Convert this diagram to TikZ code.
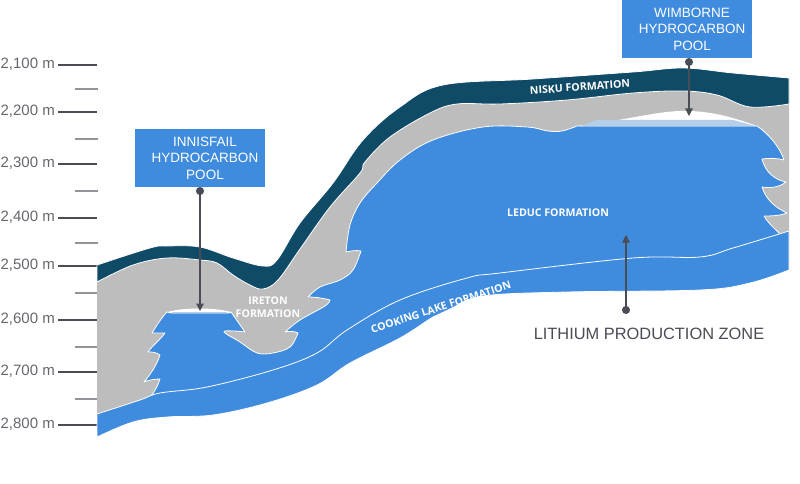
\documentclass[tikz,border=0pt]{standalone}
\usepackage{fontspec}
\setmainfont{Liberation Sans}
\newfontfamily\formationfont{Open Sans}
\usetikzlibrary{arrows.meta}
\definecolor{reefblue}{HTML}{3F8BDE}
\definecolor{niskublue}{HTML}{0F4A66}
\definecolor{shalegrey}{HTML}{BDBDBD}
\definecolor{poolblue}{HTML}{B5CFEA}
\definecolor{inkgrey}{HTML}{4A4C55}
\tikzset{
    layer/.style={draw=white, line width=.8pt, line join=round},
    poolbox/.style={fill=reefblue, draw=none, minimum width=130pt, minimum height=58pt, inner sep=0pt},
    pooltext/.style={text=white, font=\fontsize{13.5}{16.4}\selectfont, align=center, inner sep=0pt},
    formation/.style={text=white, font=\formationfont\bfseries\fontsize{10.6}{13}\selectfont, align=center, inner sep=0pt},
    depth/.style={text=inkgrey!85, font=\fontsize{15}{16}\selectfont, anchor=east, inner sep=0pt},
    tick/.style={draw=inkgrey, line width=1.3pt},
    minortick/.style={draw=inkgrey!60, line width=1.3pt},
    pointer/.style={draw=inkgrey, line width=1.2pt, {Circle[length=8pt]}-{Triangle[length=7.5pt,width=7.5pt]}}
}
\begin{document}
\begin{tikzpicture}[x=1pt, y=-1pt]
    \useasboundingbox (0,0) rectangle (800,484);
    % Depth scale
    \foreach \i/\y in {1/65,2/112,3/164,4/218,5/266,6/320,7/372,8/425} {
        \node[depth] (Depth-\i) at (55,\y-0.5) {2,\i00 m};
        \coordinate (DepthEnd-\i) at (97,\y);
        \coordinate (DepthStart-\i) at (58,\y);
        \draw[tick] (DepthStart-\i) -- (DepthEnd-\i);
    }
    \foreach \i/\y in {1/89,2/139,3/191,4/243,5/293,6/347,7/399} {
        \coordinate (Minor-\i) at (75,\y);
        \coordinate (MinorEnd-\i) at (98,\y);
        \draw[minortick] (Minor-\i) -- (MinorEnd-\i);
    }
    % Ireton shale
    \fill[shalegrey] (97,275) -- (150,254) -- (200,253) -- (263,278) -- (300,232) -- (363,150) -- (430,100) -- (683,80) -- (789,90)
        -- (789,240) -- (633,272) -- (500,282) -- (400,315) -- (317,370) -- (97,425) -- cycle;
    % Leduc reef
    \draw[layer, fill=reefblue]
        (150,398) .. controls (154,392) and (158,386) .. (160,379)
        .. controls (155,379) and (149,380) .. (144,382)
        .. controls (150,375) and (157,365) .. (160,355)
        .. controls (156,352) and (152,352) .. (148,352)
        .. controls (153,345) and (160,340) .. (165,333)
        .. controls (161,333) and (156,333) .. (152,333)
        .. controls (157,325) and (162,317) .. (167,312)
        -- (231,312) -- (245,332)
        -- plot[smooth, tension=.6] coordinates {(245,332) (234,331) (224,332) (240,342) (257,353) (273,353) (290,347) (298,333)}
        .. controls (294,331) and (289,331) .. (285,332)
        -- plot[smooth, tension=.6] coordinates {(285,332) (300,320) (325,306) (330,300)}
        .. controls (323,298) and (315,297) .. (308,297)
        -- plot[smooth, tension=.6] coordinates {(308,297) (320,287) (340,280) (353,270) (361,251)}
        .. controls (356,250) and (351,251) .. (346,252)
        -- plot[smooth, tension=.6] coordinates {(346,252) (350,225) (360,203) (377,183) (400,160) (433,140) (483,127) (527,127) (548,131) (562,131) (577,126)}
        -- (757,126) .. controls (770,135) and (780,148) .. (784,160)
        .. controls (777,158) and (769,158) .. (762,159)
        .. controls (765,172) and (775,180) .. (786,182)
        .. controls (778,188) and (770,188) .. (762,187)
        .. controls (766,200) and (776,208) .. (787,213)
        .. controls (779,216) and (771,216) .. (764,216)
        .. controls (768,223) and (774,228) .. (779,233)
        -- (782,245) -- (700,270) -- (633,272) -- (500,283) -- (400,315) -- (347,345) -- (313,368) -- (267,385) -- (213,400) -- (177,403) -- (150,410) -- cycle;
    % Cooking Lake
    \draw[layer, fill=reefblue]
        plot[smooth, tension=.6] coordinates {(97,414) (140,400) (160,393) (207,387) (273,370) (317,353) (347,330) (400,300) (467,278) (500,273) (633,258) (700,257) (733,248) (789,231)}
        -- (789,270)
        -- plot[smooth, tension=.6] coordinates {(789,270) (750,283) (700,290) (567,292) (483,296) (450,309) (433,317) (400,338) (350,363) (317,385) (267,403) (213,415) (167,417) (133,422) (97,437)}
        -- cycle;
    % Nisku
    \draw[layer, fill=niskublue]
        plot[smooth, tension=.6] coordinates {(97,265) (150,248) (167,246) (200,247) (233,258) (263,266) (277,260) (300,223) (333,183) (363,140) (400,107) (443,85) (533,79) (633,72) (683,68) (733,73) (789,78)}
        -- (789,104)
        -- plot[smooth, tension=.6] coordinates {(789,104) (750,107) (717,95) (683,91) (633,93) (567,100) (500,104) (457,104) (430,113) (390,137) (365,162) (360,173) (330,207) (300,249) (278,280) (263,289) (250,285) (233,275) (217,263) (200,260) (167,258) (133,265) (97,282)}
        -- cycle;
    % Pools
    \fill[white] (167,313) .. controls (175,307) and (222,307) .. (232,313) -- cycle;
    \fill[poolblue] (171,313.5) -- (173,312) -- (226,312) -- (229,313.5) -- cycle;
    \fill[white] (577,126) .. controls (640,118) and (660,110) .. (690,111) .. controls (715,112) and (735,118) .. (757,126) -- cycle;
    \fill[poolblue] (580,126.4) -- (597,120) -- (733,120) -- (757,126.4) -- cycle;
    % Boxes
    \node[poolbox] (Innisfail) at (200,158) {};
    \node[pooltext] (Innisfail-Text) at (205,158) {INNISFAIL\\HYDROCARBON\\POOL};
    \node[poolbox] (Wimborne) at (687,29) {};
    \node[pooltext] (Wimborne-Text) at (692,29) {WIMBORNE\\HYDROCARBON\\POOL};
    % Formations
    \node[formation, rotate=4] (Nisku) at (580,87) {NISKU FORMATION};
    \node[formation] (Leduc) at (558,213) {LEDUC FORMATION};
    \node[formation] (Ireton) at (268,307) {IRETON\\FORMATION};
    \node[formation, rotate=18] (Cooking) at (441,307) {COOKING LAKE FORMATION};
    % Lithium
    \node[text=inkgrey, font=\fontsize{16.4}{18}\selectfont, inner sep=0pt] (Lithium) at (649,334) {LITHIUM PRODUCTION ZONE};
    % Arrows
    \coordinate (Innisfail-Start) at (200,187);
    \coordinate (Innisfail-Pool) at (200,311);
    \coordinate (Wimborne-Start) at (689,58);
    \coordinate (Wimborne-Pool) at (689,116);
    \coordinate (Lithium-Start) at (626,314);
    \coordinate (Lithium-Zone) at (626,235);
    \draw[pointer] (Innisfail-Start) -- (Innisfail-Pool);
    \draw[pointer] (Wimborne-Start) -- (Wimborne-Pool);
    \draw[pointer] (Lithium-Start) -- (Lithium-Zone);
\end{tikzpicture}
\end{document}
